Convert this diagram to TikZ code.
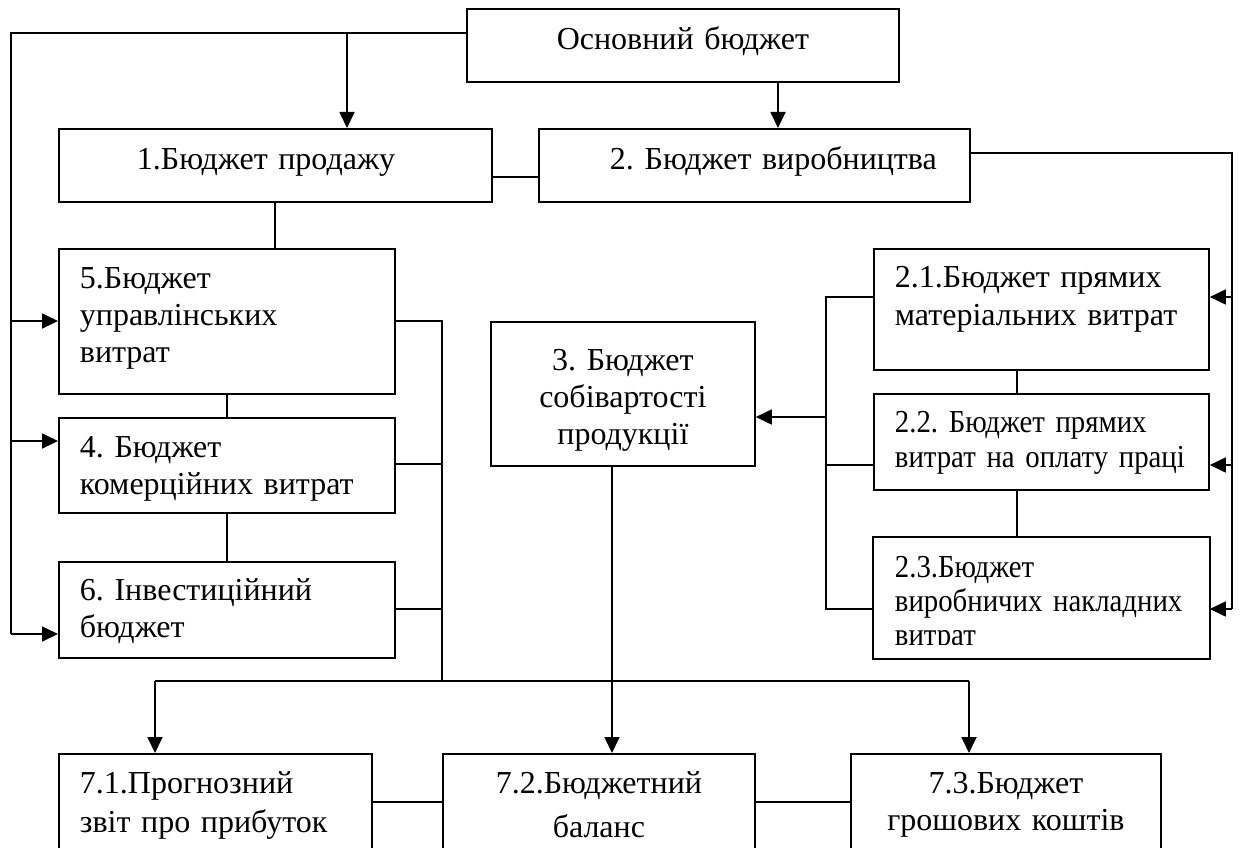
\documentclass[tikz,border=0pt]{standalone}
\usepackage{fontspec}
\setmainfont{Liberation Serif}
\newfontfamily\narrowfont{Liberation Serif}[FakeStretch=0.9]
\usepackage{tikz}
\usetikzlibrary{arrows.meta, positioning, calc}
\frenchspacing
\tikzset{
  block/.style={rectangle, draw=black, line width=1.8pt, inner xsep=0pt,
    inner ysep=0pt, align=center, font=\fontsize{32}{37}\selectfont},
  lblock/.style={block, align=left, inner xsep=21pt},
  arrow/.style={-{Triangle[length=16pt, width=15pt]}, line width=1.8pt},
  line/.style={line width=1.6pt},
  thinline/.style={line width=1.2pt}
}

\begin{document}
\begin{tikzpicture}[x=1pt, y=-1pt]
  \clip (0,0) rectangle (1243,848);

  % Top row
  \node[block, text width=432pt, text height=41pt, text depth=32pt, anchor=north west] (osn) at (466,8) {Основний бюджет};
  \node[lblock, inner xsep=78pt, text width=277pt, text height=41pt, text depth=32pt, anchor=north west] (b1) at (58,128) {1.Бюджет продажу};
  \node[lblock, align=right, inner xsep=33pt, text width=365pt, text height=41pt, text depth=32pt, anchor=north west] (b2) at (538,128) {2. Бюджет виробництва};

  % Left column
  \node[lblock, text width=294pt, text height=40pt, text depth=105pt, anchor=north west] (b5) at (58,248) {5.Бюджет\\управлінських\\витрат};
  \node[lblock, text width=294pt, text height=40pt, text depth=55pt, anchor=north west] (b4) at (58,417) {4. Бюджет\\комерційних витрат};
  \node[lblock, text width=294pt, text height=39pt, text depth=57pt, anchor=north west] (b6) at (58,561) {6. Інвестиційний\\бюджет};

  % Middle
  \node[block, text width=264pt, text height=49pt, text depth=95pt, anchor=north west] (b3) at (490,321) {3. Бюджет\\собівартості\\продукції};

  % Right column
  \node[lblock, text width=293pt, text height=39pt, text depth=82pt, anchor=north west,
    font=\fontsize{32}{38}\selectfont] (b21) at (873,248) {2.1.Бюджет прямих\\матеріальних витрат};
  \node[lblock, text width=293pt, text height=39pt, text depth=57pt, anchor=north west,
    font=\fontsize{32}{35}\narrowfont] (b22) at (873,393) {2.2. Бюджет прямих\\витрат на оплату праці};
  \begin{scope}
    \clip (873,537) rectangle (1208,644);
    \node[lblock, draw=none, text width=293pt, text height=40pt, text depth=80pt, anchor=north west,
      font=\fontsize{32}{34}\narrowfont] (b23) at (873,537) {2.3.Бюджет\\виробничих накладних\\витрат};
  \end{scope}
  \draw[line width=1.8pt] (b23.north west) rectangle (b23.south east);

  % Bottom row
  \node[lblock, text width=271pt, text height=40pt, text depth=60pt, anchor=north west,
    font=\fontsize{32}{39}\selectfont] (b71) at (58,753) {7.1.Прогнозний\\звіт про прибуток};
  \node[block, text width=312pt, text height=40pt, text depth=60pt, anchor=north west] (b72) at (442,753) {7.2.Бюджетний\\[7pt]баланс};
  \node[block, text width=310pt, text height=40pt, text depth=60pt, anchor=north west] (b73) at (850,753) {7.3.Бюджет\\грошових коштів};

  % Left rail
  \coordinate (lt) at (11,33);
  \coordinate (lb) at (11,634);
  \coordinate (j1) at (347,33);
  \draw[line] (osn.west |- lt) -- (lt) -- (lb);
  \draw[arrow] (j1) -- (j1 |- b1.north);
  \draw[arrow] (lt |- 0,321) -- (b5.west |- 0,321);
  \draw[arrow] (lt |- 0,441) -- (b4.west |- 0,441);
  \draw[arrow] (lb) -- (b6.west |- lb);

  % Top links
  \draw[arrow] (osn.south -| 778,0) -- (b2.north -| 778,0);
  \draw[line] (b1.east |- 0,177) -- (b2.west |- 0,177);
  \draw[thinline] (b1.south -| 275,0) -- (b5.north -| 275,0);
  \draw[thinline] (b5.south -| 227,0) -- (b4.north -| 227,0);
  \draw[thinline] (b4.south -| 227,0) -- (b6.north -| 227,0);

  % Bus to the bottom row
  \coordinate (bus) at (442,681);
  \coordinate (busl) at (155,681);
  \coordinate (busr) at (969,681);
  \draw[line] (b5.east |- 0,321) -| (bus);
  \draw[line] (b4.east |- 0,464) -- (bus |- 0,464);
  \draw[line] (b6.east |- 0,609) -- (bus |- 0,609);
  \draw[line] (busl) -- (busr);
  \draw[arrow] (busl) -- (busl |- b71.north);
  \draw[arrow] (busr) -- (busr |- b73.north);
  \draw[arrow] (b3.south -| 612,0) -- (b72.north -| 612,0);

  % Right column links
  \coordinate (rt) at (826,297);
  \coordinate (rb) at (826,609);
  \draw[line] (b21.west |- rt) -- (rt) -- (rb) -- (b23.west |- rb);
  \draw[line] (b22.west |- 0,465) -- (rt |- 0,465);
  \draw[arrow] (rt |- 0,417) -- (b3.east |- 0,417);
  \draw[thinline] (b21.south -| 1017,0) -- (b22.north -| 1017,0);
  \draw[thinline] (b22.south -| 1017,0) -- (b23.north -| 1017,0);

  % Right rail
  \coordinate (rrt) at (1232,153);
  \coordinate (rrb) at (1232,609);
  \draw[line] (b2.east |- rrt) -- (rrt) -- (rrb);
  \draw[arrow] (rrt |- 0,297) -- (b21.east |- 0,297);
  \draw[arrow] (rrt |- 0,465) -- (b22.east |- 0,465);
  \draw[arrow] (rrb) -- (b23.east |- rrb);

  % Bottom links
  \draw[line] (b71.east |- 0,802) -- (b72.west |- 0,802);
  \draw[line] (b72.east |- 0,802) -- (b73.west |- 0,802);
\end{tikzpicture}
\end{document}
